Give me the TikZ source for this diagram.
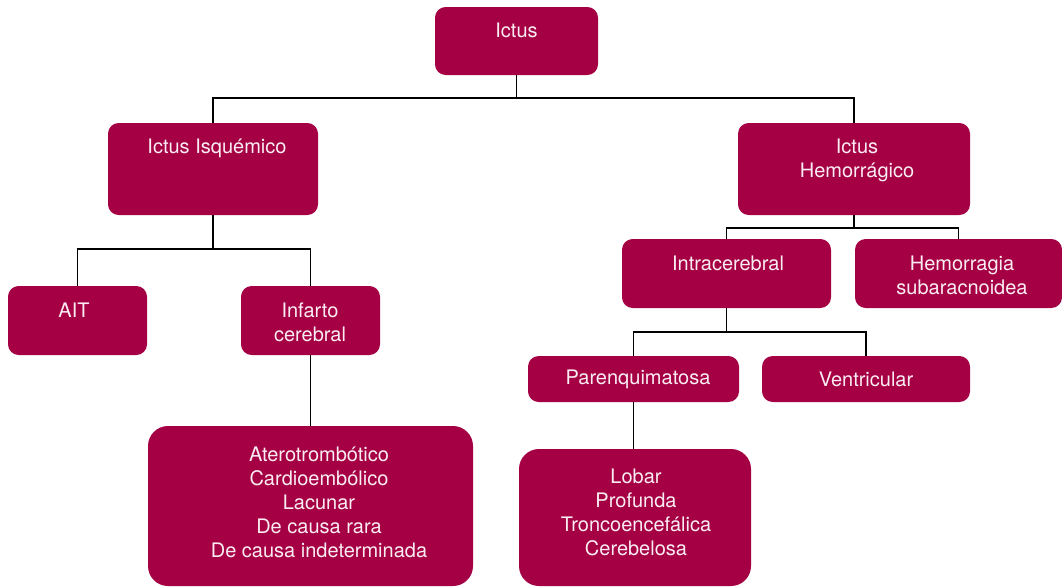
\documentclass[tikz,border=0pt]{standalone}
\usepackage{fontspec}
\setmainfont{TeX Gyre Heros}
\usepackage{tikz}
\definecolor{MyBerry}{HTML}{A50044}
\definecolor{MyPale}{HTML}{FAEDF2}
\tikzset{
	box/.style={fill=MyBerry, draw=none, rounded corners=8pt, inner sep=0pt},
	bigbox/.style={box, rounded corners=15pt},
	boxtext/.style={text=MyPale, align=center, inner sep=0pt, font=\fontsize{15}{18}\selectfont},
	link/.style={draw=black, line width=1.4pt}
}
\begin{document}
\begin{tikzpicture}[x=0.75pt, y=-0.75pt]
%		\draw [step=10, gray, thin, opacity=0.5] (0,0) grid (1062,587);
		\useasboundingbox (0,0) rectangle (1062,587);
		
		% boxes
		\node[box, minimum width=122.25pt, minimum height=51pt] (ictus) at (516.5, 41) {};
		\node[box, minimum width=157.5pt, minimum height=69pt] (isq) at (213, 169) {};
		\node[box, minimum width=174pt, minimum height=69pt] (hem) at (854, 169) {};
		
		\node[box, minimum width=104.25pt, minimum height=51.75pt] (ait) at (77.5, 320.5) {};
		\node[box, minimum width=104.25pt, minimum height=51.75pt] (inf) at (310.5, 320.5) {};
		\node[bigbox, minimum width=243.75pt, minimum height=120pt] (tipos) at (310.5, 506) {};
		
		\node[box, minimum width=156.75pt, minimum height=51.75pt] (intra) at (726.5, 273.5) {};
		\node[box, minimum width=155.25pt, minimum height=51.75pt] (hsa) at (958.5, 273.5) {};
		\node[box, minimum width=158.25pt, minimum height=34.5pt] (paren) at (633.5, 379) {};
		\node[box, minimum width=156pt, minimum height=34.5pt] (ventr) at (866, 379) {};
		\node[bigbox, minimum width=174pt, minimum height=102.75pt] (local) at (635, 517.5) {};
		
		% texts
		\node[boxtext] (ictus-t) at (516.5, 30) {Ictus};
		\node[boxtext] (isq-t) at (217, 148) {Ictus Isquémico};
		\node[boxtext] (hem-t) at (857, 160) {Ictus\\Hemorrágico};
		\node[boxtext] (ait-t) at (74, 310) {AIT};
		\node[boxtext] (inf-t) at (310, 322) {Infarto\\cerebral};
		\node[boxtext] (tipos-t) at (319, 502) {Aterotrombótico\\Cardioembólico\\Lacunar\\De causa rara\\De causa indeterminada};
		\node[boxtext] (intra-t) at (728, 263) {Intracerebral};
		\node[boxtext] (hsa-t) at (962, 275) {Hemorragia\\subaracnoidea};
		\node[boxtext] (paren-t) at (638, 379) {Parenquimatosa};
		\node[boxtext] (ventr-t) at (866, 379) {Ventricular};
		\node[boxtext] (local-t) at (636, 512) {Lobar\\Profunda\\Troncoencefálica\\Cerebelosa};
		
		% connectors
		\coordinate (J1) at (516.5, 98);
		\coordinate (J2) at (213, 249);
		\coordinate (J3) at (854, 228);
		\coordinate (J4) at (726.5, 332);
		
		\draw[link] (ictus.south) -- (J1);
		\draw[link] (isq.north) |- (J1) -| (hem.north);
		
		\draw[link] (isq.south) -- (J2);
		\draw[link] (ait.north) |- (J2) -| (inf.north);
		\draw[link] (inf.south) -- (tipos.north);
		
		\draw[link] (hem.south) -- (J3);
		\draw[link] (intra.north) |- (J3) -| (hsa.north);
		
		\draw[link] (intra.south) -- (J4);
		\draw[link] (paren.north) |- (J4) -| (ventr.north);
		\draw[link] (paren.south) -- (paren.south |- local.north);
		
	\end{tikzpicture}
\end{document}
